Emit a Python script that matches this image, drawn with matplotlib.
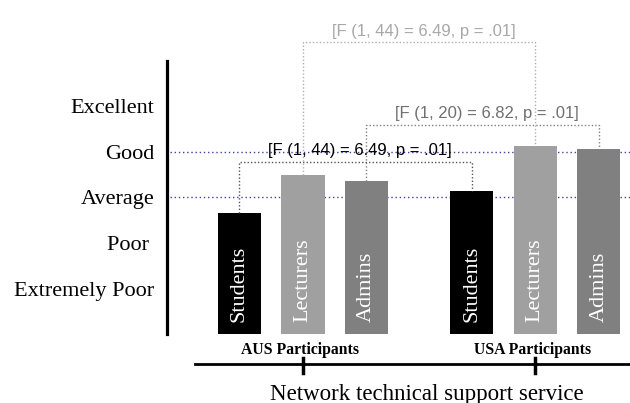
import matplotlib
matplotlib.use("Agg")
import matplotlib.pyplot as plt
import numpy as np

# ratings (1 = Extremely Poor ... 5 = Excellent)
groups = ["AUS Participants", "USA Participants"]
roles = ["Students", "Lecturers", "Admins"]
aus_vals = [2.65, 3.49, 3.36]
usa_vals = [3.15, 4.13, 4.06]
rating_labels = ["Extremely Poor", "Poor ", "Average", "Good", "Excellent"]
rating_ticks = [1, 2, 3, 4, 5]
xlabel = "Network technical support service"

# comparisons: (group a, role a, group b, role b, text)
comparisons = [
    (0, 0, 1, 0, "[F (1, 44) = 6.49, p = .01]"),
    (0, 2, 1, 2, "[F (1, 20) = 6.82, p = .01]"),
    (0, 1, 1, 1, "[F (1, 44) = 6.49, p = .01]"),
]

role_colors = ["#000000", "#a0a0a0", "#808080"]
cmp_line_colors = ["#555555", "#808080", "#b0b0b0"]
cmp_text_colors = ["#000000", "#707070", "#a8a8a8"]
cmp_levels = [3.78, 4.59, 6.41]
serif = "Liberation Serif"
sans = "Liberation Sans"

fig = plt.figure(figsize=(6.3, 4.03), dpi=100)
ax = fig.add_axes([167/630, 68.8/403, 1-167/630, 334.2/403])

group_gap = 0.66
pos = np.array([[g*(len(roles)+group_gap) + r for r in range(len(roles))] for g in range(len(groups))])
vals = np.array([aus_vals, usa_vals])

ax.set_xlim(-1.14, 6.15)
ax.set_ylim(0, 7.33)

# reference lines at Average and Good
for lvl in [3, 4]:
    ax.plot([-1.09, 6.15], [lvl, lvl], ls=(0, (1, 2)), color="#4040a0", lw=1, zorder=1)

for g in range(len(groups)):
    for r in range(len(roles)):
        ax.bar(pos[g, r], vals[g, r], width=0.68, color=role_colors[r], zorder=2)
        ax.text(pos[g, r], 0.26, roles[r], rotation=90, ha="center", va="bottom",
                color="white", fontsize=16, family=serif, zorder=3)

for (ga, ra, gb, rb, txt), lvl, lc, tc in zip(comparisons, cmp_levels, cmp_line_colors, cmp_text_colors):
    xa, xb = pos[ga, ra], pos[gb, rb]
    ax.plot([xa, xa, xb, xb], [vals[ga, ra], lvl, lvl, vals[gb, rb]],
            ls=(0, (1, 1.5)), color=lc, lw=1, zorder=4)
    ax.text((xa+xb)/2 + 0.07, lvl + 0.24, txt, ha="center", va="center",
            color=tc, fontsize=12, family=sans, zorder=5)

# y axis
for s in ["top", "right", "bottom"]:
    ax.spines[s].set_visible(False)
ax.spines["left"].set_linewidth(2.3)
ax.spines["left"].set_bounds(0, 6)
ax.set_yticks(rating_ticks)
ax.set_yticklabels(rating_labels, family=serif, fontsize=16)
ax.tick_params(axis="y", length=0, pad=9)
ax.set_xticks([])

# group axis below bars
ax.plot([-0.70, 6.15], [-0.65, -0.65], color="black", lw=2, clip_on=False)
for g in range(len(groups)):
    c = pos[g].mean()
    ax.plot([c, c], [-0.52, -0.85], color="black", lw=2.5, clip_on=False)
    ax.text(c - 0.05, -0.35, groups[g], ha="center", va="center", fontsize=11.3,
            fontweight="bold", family=serif)
ax.text(pos.mean() + 0.12, -1.44, xlabel, ha="center", va="baseline", fontsize=16.5, family=serif)

fig.savefig("out.png", dpi=100)
